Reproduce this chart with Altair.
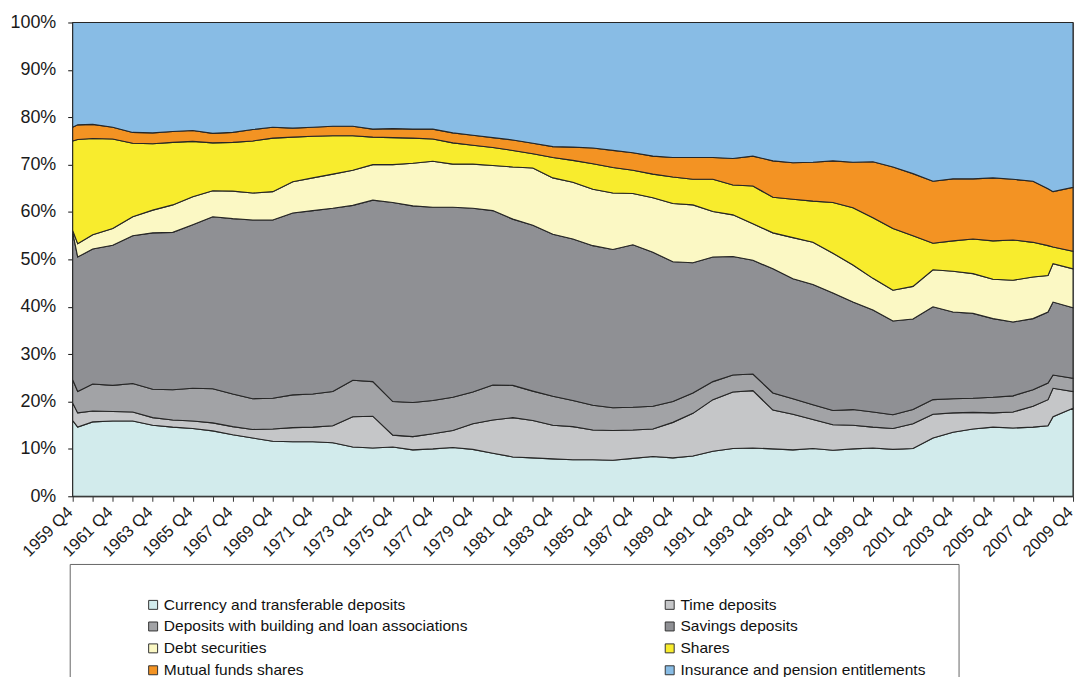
import altair as alt
import pandas as pd

# quarter index counted from 1959 Q4 (0) to 2009 Q4 (200)
quarters = [0, 1, 4, 8, 12, 16, 20, 24, 28, 32, 36, 40, 44, 48, 52, 56, 60, 64, 68, 72,
            76, 80, 84, 88, 92, 96, 100, 104, 108, 112, 116, 120, 124, 128, 132, 136,
            140, 144, 148, 152, 156, 160, 164, 168, 172, 176, 180, 184, 188, 192, 195,
            196, 200]

currency = [16.0, 14.6, 15.7, 15.9, 15.9, 15.0, 14.6, 14.3, 13.8, 13.0, 12.3, 11.6, 11.5,
            11.5, 11.3, 10.4, 10.2, 10.4, 9.8, 10.0, 10.3, 9.9, 9.1, 8.3, 8.1, 7.9, 7.7,
            7.7, 7.6, 8.0, 8.4, 8.1, 8.5, 9.5, 10.1, 10.2, 10.0, 9.8, 10.1, 9.7, 10.0,
            10.2, 9.9, 10.1, 12.3, 13.5, 14.2, 14.6, 14.4, 14.6, 14.9, 16.8, 18.6]
time_deposits = [3.7, 3.0, 2.3, 2.0, 1.9, 1.6, 1.5, 1.6, 1.7, 1.7, 1.8, 2.6, 3.0, 3.1, 3.6,
                 6.4, 6.7, 2.5, 2.8, 3.2, 3.6, 5.4, 7.0, 8.3, 7.9, 7.1, 7.0, 6.3, 6.3, 6.0,
                 5.8, 7.5, 9.0, 10.9, 11.9, 12.1, 8.2, 7.5, 6.1, 5.4, 5.0, 4.4, 4.4, 5.2,
                 5.0, 4.1, 3.5, 3.0, 3.4, 4.4, 5.5, 6.0, 3.5]
building_loan = [4.9, 4.5, 5.7, 5.5, 6.0, 6.0, 6.4, 6.9, 7.2, 6.9, 6.5, 6.5, 6.9, 7.0, 7.2,
                 7.7, 7.3, 7.1, 7.2, 7.0, 7.0, 6.7, 7.4, 6.8, 6.2, 6.1, 5.5, 5.2, 4.8, 4.8,
                 4.8, 4.4, 4.3, 3.8, 3.6, 3.5, 3.6, 3.3, 3.1, 3.0, 3.3, 3.2, 2.9, 3.0, 3.1,
                 3.0, 3.0, 3.3, 3.4, 3.5, 3.5, 2.8, 2.8]
savings = [31.1, 28.4, 28.5, 29.6, 31.2, 33.0, 33.2, 34.5, 36.3, 37.0, 37.7, 37.6, 38.4,
           38.7, 38.7, 36.9, 38.3, 42.0, 41.5, 40.8, 40.1, 38.8, 36.8, 35.1, 35.0, 34.2,
           34.1, 33.7, 33.4, 34.3, 32.5, 29.5, 27.5, 26.3, 25.0, 24.0, 26.2, 25.3, 25.4,
           24.8, 22.7, 21.5, 19.8, 19.1, 19.6, 18.3, 17.9, 16.6, 15.6, 15.0, 15.0, 15.4,
           14.9]
debt_securities = [0.4, 2.8, 3.0, 3.5, 4.0, 4.8, 5.8, 5.9, 5.5, 5.8, 5.7, 6.0, 6.6, 6.9,
                   7.2, 7.4, 7.5, 8.0, 9.0, 9.7, 9.1, 9.3, 9.5, 11.0, 12.1, 11.9, 12.0,
                   11.9, 11.9, 10.8, 11.5, 12.3, 12.2, 9.6, 8.8, 7.7, 7.6, 8.7, 8.9, 8.4,
                   7.8, 6.7, 6.5, 6.9, 7.8, 8.6, 8.4, 8.3, 8.8, 8.8, 7.7, 8.1, 8.2]
shares = [18.9, 22.0, 20.3, 18.9, 15.5, 14.0, 13.2, 11.7, 10.1, 10.3, 11.0, 11.3, 9.4, 8.8,
          8.1, 7.3, 5.8, 5.7, 5.3, 4.7, 4.5, 4.0, 3.8, 3.5, 3.0, 4.3, 4.6, 5.4, 5.4, 4.9,
          5.0, 5.6, 5.4, 6.8, 6.3, 8.0, 7.5, 8.1, 8.7, 10.7, 12.1, 12.8, 13.0, 10.7, 5.6,
          6.4, 7.3, 8.1, 8.5, 7.3, 6.3, 3.5, 3.7]
mutual_funds = [2.9, 3.1, 3.0, 2.5, 2.3, 2.3, 2.3, 2.3, 2.0, 2.1, 2.4, 2.3, 1.9, 1.9, 2.0,
                2.0, 1.7, 1.9, 1.9, 2.1, 2.1, 2.1, 2.1, 2.2, 2.2, 2.3, 2.8, 3.3, 3.6, 3.7,
                3.8, 4.1, 4.6, 4.6, 5.6, 6.3, 7.7, 7.7, 8.2, 8.8, 9.6, 11.8, 13.0, 13.1,
                13.1, 13.1, 12.7, 13.3, 12.8, 12.9, 12.0, 11.7, 13.5]
insurance = [22.1, 21.6, 21.5, 22.1, 23.2, 23.3, 23.0, 22.8, 23.4, 23.2, 22.6, 22.1, 22.3,
             22.1, 21.9, 21.9, 22.5, 22.4, 22.5, 22.5, 23.3, 23.8, 24.3, 24.8, 25.5, 26.2,
             26.3, 26.5, 27.0, 27.5, 28.2, 28.5, 28.5, 28.5, 28.7, 28.2, 29.2, 29.6, 29.5,
             29.2, 29.5, 29.4, 30.5, 31.9, 33.5, 33.0, 33.0, 32.8, 33.1, 33.5, 35.1, 35.7,
             34.8]

series_names = [
    "Currency and transferable deposits",
    "Time deposits",
    "Deposits with building and loan associations",
    "Savings deposits",
    "Debt securities",
    "Shares",
    "Mutual funds shares",
    "Insurance and pension entitlements",
]
series_values = [currency, time_deposits, building_loan, savings, debt_securities,
                 shares, mutual_funds, insurance]
series_colors = ["#D2EBEC", "#C5C6C8", "#A2A3A6", "#8F9094",
                 "#FBF8C4", "#F8EC2D", "#F39323", "#88BCE5"]

rows = []
for order, (name, vals) in enumerate(zip(series_names, series_values)):
    for q, v in zip(quarters, vals):
        rows.append({"q": q, "series": name, "value": v, "order": order})
df = pd.DataFrame(rows)

FONT = "Liberation Sans"

chart = (
    alt.Chart(df)
    .mark_area(stroke="#262626", strokeWidth=1.1, opacity=1, interpolate="linear")
    .encode(
        x=alt.X(
            "q:Q",
            scale=alt.Scale(domain=[0, 200], nice=False, zero=False),
            axis=alt.Axis(
                values=list(range(0, 201, 4)),
                labelExpr="datum.value % 8 == 0 ? floor(1959 + datum.value / 4) + ' Q4' : ''",
                labelAngle=-45,
                labelAlign="right",
                labelBaseline="middle",
                labelFont=FONT,
                labelFontSize=16.5,
                labelColor="#1a1a1a",
                labelPadding=8,
                labelOffset=-3,
                labelOverlap=False,
                labelBound=False,
                title=None,
                grid=False,
                domainColor="#444444",
                domainWidth=1,
                tickColor="#333333",
                tickSize=5,
            ),
        ),
        y=alt.Y(
            "value:Q",
            stack="normalize",
            scale=alt.Scale(domain=[0, 1], nice=False),
            axis=alt.Axis(
                values=[0, 0.1, 0.2, 0.3, 0.4, 0.5, 0.6, 0.7, 0.8, 0.9, 1.0],
                format=".0%",
                labelFont=FONT,
                labelFontSize=18,
                labelColor="#1a1a1a",
                labelPadding=12,
                title=None,
                grid=False,
                domainColor="#111111",
                domainWidth=2,
                tickColor="#111111",
                tickSize=5,
            ),
        ),
        color=alt.Color(
            "series:N",
            sort=series_names,
            scale=alt.Scale(domain=series_names, range=series_colors),
            legend=alt.Legend(
                title=None,
                orient="none",
                direction="horizontal",
                legendX=-3,
                legendY=544,
                columns=2,
                columnPadding=152,
                rowPadding=5,
                symbolType="square",
                symbolSize=81,
                symbolStrokeColor="#333333",
                symbolStrokeWidth=1,
                symbolOffset=43,
                labelFont=FONT,
                labelFontSize=15.6,
                labelColor="#111111",
                labelOffset=3,
                labelLimit=400,
                padding=33,
                strokeColor="#666666",
                fillColor="white",
            ),
        ),
        order=alt.Order("order:Q"),
    )
    .properties(
        width=1005,
        height=476,
        autosize=alt.AutoSizeParams(type="none"),
        padding={"left": 65, "top": 13, "right": 5, "bottom": 180},
    )
    .configure_view(stroke="#666666", strokeWidth=1)
)

chart.save("out.html", embed_options={"renderer": "svg", "actions": False})
